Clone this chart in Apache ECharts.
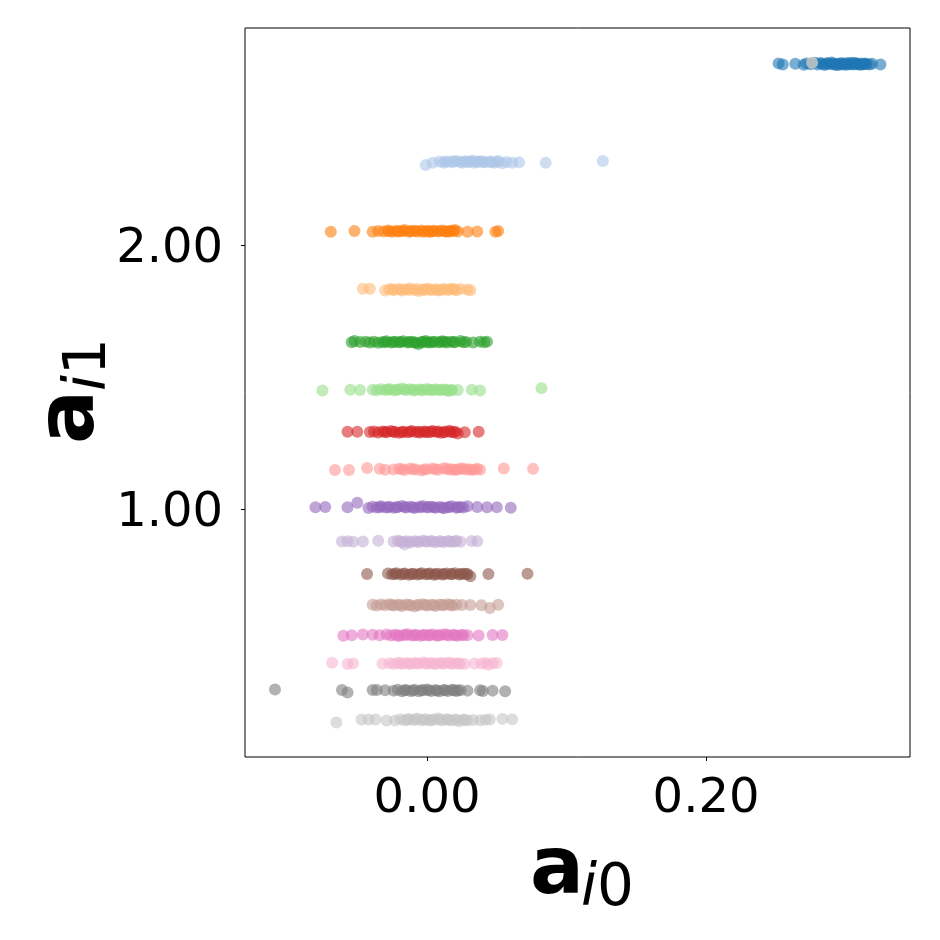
<!DOCTYPE html>
<html><head><meta charset="utf-8">
<script src="https://cdn.jsdelivr.net/npm/echarts@6/dist/echarts.min.js"></script>
<style>html,body{margin:0;padding:0;background:#fff}#c{width:940px;height:940px}</style>
</head><body><div id="c"></div>
<script>
// ---- data ----
const xTicks = [0, 0.2];
const yTicks = [1, 2];
const xRange = [-0.1305, 0.3462];
const yRange = [0.0606, 2.822];
const colors = ['#1f77b4','#aec7e8','#ff7f0e','#ffbb78','#2ca02c','#98df8a','#d62728','#ff9896',
                '#9467bd','#c5b0d5','#8c564b','#c49c94','#e377c2','#f7b6d2','#7f7f7f','#c7c7c7'];

const g01 = [[0.252,2.688],[0.255,2.684],[0.264,2.687],[0.270,2.683],[0.272,2.688],[0.275,2.685],[0.278,2.690],[0.280,2.684],[0.283,2.687],[0.285,2.682],[0.287,2.689],[0.289,2.685],[0.290,2.691],[0.292,2.684],[0.294,2.687],[0.295,2.682],[0.297,2.689],[0.298,2.685],[0.300,2.688],[0.301,2.683],[0.303,2.686],[0.305,2.690],[0.306,2.684],[0.308,2.687],[0.310,2.683],[0.311,2.688],[0.313,2.685],[0.315,2.686],[0.317,2.684],[0.319,2.687],[0.325,2.684],
  [0.282,2.689],[0.286,2.686],[0.291,2.688],[0.293,2.683],[0.296,2.686],[0.299,2.684],[0.302,2.689],[0.304,2.685],[0.307,2.689],[0.309,2.686],[0.312,2.684],[0.314,2.688]];
const g02 = [[-0.001,2.303],[0.004,2.312],[0.009,2.316],[0.012,2.312],[0.015,2.316],[0.018,2.313],[0.021,2.318],[0.024,2.314],[0.027,2.317],[0.030,2.313],[0.033,2.319],[0.036,2.314],[0.039,2.317],[0.042,2.313],[0.045,2.316],[0.048,2.312],[0.051,2.318],[0.054,2.310],[0.057,2.314],[0.061,2.312],[0.066,2.313],[0.085,2.312],[0.126,2.318],
  [0.013,2.315],[0.019,2.317],[0.025,2.312],[0.028,2.315],[0.031,2.317],[0.034,2.312],[0.037,2.316],[0.040,2.314],[0.046,2.314],[0.050,2.315]];
const g03 = [[-0.069,2.050],[-0.052,2.053],[-0.039,2.050],[-0.035,2.053],[-0.031,2.051],[-0.028,2.055],[-0.025,2.050],[-0.022,2.054],[-0.019,2.052],[-0.016,2.057],[-0.013,2.050],[-0.010,2.054],[-0.007,2.051],[-0.004,2.055],[-0.001,2.052],[0.002,2.049],[0.005,2.054],[0.008,2.051],[0.011,2.055],[0.014,2.050],[0.017,2.054],[0.020,2.057],[0.022,2.051],[0.029,2.050],[0.036,2.051],[0.049,2.050],[0.051,2.053],
  [-0.027,2.052],[-0.021,2.051],[-0.017,2.053],[-0.012,2.052],[-0.008,2.053],[-0.003,2.050],[0.001,2.054],[0.004,2.052],[0.009,2.053],[0.013,2.052],[0.016,2.051],[0.019,2.053]];
const g04 = [[-0.046,1.834],[-0.041,1.834],[-0.030,1.828],[-0.027,1.832],[-0.024,1.829],[-0.021,1.833],[-0.018,1.828],[-0.015,1.832],[-0.012,1.835],[-0.009,1.830],[-0.006,1.826],[-0.003,1.831],[0.000,1.834],[0.003,1.829],[0.006,1.832],[0.009,1.828],[0.012,1.833],[0.015,1.830],[0.018,1.834],[0.021,1.829],[0.024,1.833],[0.029,1.831],[0.031,1.829],
  [-0.025,1.832],[-0.019,1.831],[-0.013,1.830],[-0.007,1.833],[-0.002,1.830],[0.002,1.832],[0.007,1.830],[0.011,1.831],[0.016,1.832],[0.020,1.831]];
const g05 = [[-0.054,1.632],[-0.052,1.636],[-0.048,1.633],[-0.044,1.634],[-0.041,1.631],[-0.038,1.634],[-0.035,1.630],[-0.032,1.633],[-0.029,1.635],[-0.026,1.631],[-0.023,1.634],[-0.020,1.632],[-0.017,1.635],[-0.014,1.631],[-0.011,1.634],[-0.008,1.629],[-0.006,1.625],[-0.004,1.633],[-0.001,1.636],[0.002,1.631],[0.005,1.634],[0.008,1.632],[0.011,1.635],[0.014,1.631],[0.017,1.634],[0.020,1.632],[0.024,1.636],[0.028,1.633],[0.033,1.631],[0.038,1.634],[0.041,1.632],[0.043,1.634],
  [-0.030,1.632],[-0.024,1.633],[-0.019,1.633],[-0.013,1.633],[-0.009,1.632],[-0.003,1.633],[0.000,1.632],[0.004,1.633],[0.010,1.633],[0.013,1.634],[0.019,1.633],[0.026,1.632]];
const g06 = [[-0.075,1.449],[-0.055,1.452],[-0.048,1.451],[-0.039,1.452],[-0.036,1.450],[-0.033,1.454],[-0.030,1.451],[-0.027,1.455],[-0.024,1.450],[-0.021,1.453],[-0.018,1.456],[-0.015,1.451],[-0.012,1.454],[-0.009,1.449],[-0.006,1.453],[-0.003,1.450],[0.000,1.455],[0.003,1.451],[0.006,1.454],[0.009,1.450],[0.012,1.453],[0.015,1.447],[0.018,1.451],[0.022,1.451],[0.032,1.452],[0.038,1.449],[0.082,1.457],
  [-0.028,1.452],[-0.022,1.451],[-0.016,1.453],[-0.010,1.452],[-0.004,1.452],[0.001,1.452],[0.005,1.451],[0.010,1.452],[0.014,1.452],[0.017,1.450]];
const g07 = [[-0.057,1.293],[-0.050,1.293],[-0.041,1.292],[-0.038,1.294],[-0.035,1.290],[-0.032,1.294],[-0.029,1.291],[-0.026,1.295],[-0.023,1.292],[-0.020,1.289],[-0.017,1.293],[-0.014,1.291],[-0.011,1.295],[-0.008,1.292],[-0.005,1.290],[-0.002,1.294],[0.001,1.291],[0.004,1.295],[0.007,1.292],[0.010,1.289],[0.013,1.293],[0.016,1.296],[0.019,1.291],[0.022,1.286],[0.027,1.291],[0.037,1.293],
  [-0.030,1.293],[-0.024,1.293],[-0.018,1.292],[-0.012,1.293],[-0.006,1.293],[-0.001,1.292],[0.003,1.293],[0.008,1.294],[0.012,1.291],[0.017,1.292],[0.020,1.293]];
const g08 = [[-0.066,1.148],[-0.056,1.148],[-0.043,1.155],[-0.034,1.152],[-0.030,1.149],[-0.024,1.150],[-0.020,1.152],[-0.016,1.148],[-0.012,1.153],[-0.008,1.150],[-0.004,1.146],[0.000,1.151],[0.004,1.153],[0.008,1.149],[0.012,1.154],[0.016,1.150],[0.020,1.148],[0.024,1.153],[0.028,1.150],[0.032,1.148],[0.036,1.152],[0.038,1.149],[0.055,1.153],[0.076,1.152],
  [-0.018,1.151],[-0.010,1.151],[-0.002,1.150],[0.006,1.151],[0.014,1.152],[0.018,1.151],[0.022,1.150],[0.026,1.152],[0.030,1.151],[0.034,1.150]];
const g09 = [[-0.080,1.007],[-0.073,1.008],[-0.057,1.007],[-0.050,1.024],[-0.042,1.004],[-0.039,1.009],[-0.036,1.006],[-0.033,1.010],[-0.030,1.006],[-0.027,1.009],[-0.024,1.005],[-0.021,1.008],[-0.018,1.011],[-0.015,1.006],[-0.012,1.009],[-0.009,1.004],[-0.006,1.008],[-0.003,1.011],[0.000,1.006],[0.003,1.009],[0.006,1.005],[0.009,1.008],[0.012,1.003],[0.015,1.007],[0.018,1.010],[0.021,1.005],[0.024,1.008],[0.029,1.010],[0.036,1.008],[0.043,1.007],[0.050,1.007],[0.060,1.005],
  [-0.034,1.007],[-0.028,1.007],[-0.022,1.007],[-0.016,1.008],[-0.010,1.007],[-0.004,1.007],[0.001,1.008],[0.005,1.007],[0.011,1.006],[0.016,1.008],[0.022,1.007],[0.026,1.006]];
const g10 = [[-0.061,0.877],[-0.057,0.878],[-0.053,0.876],[-0.046,0.877],[-0.035,0.880],[-0.024,0.877],[-0.021,0.880],[-0.018,0.875],[-0.016,0.866],[-0.015,0.878],[-0.012,0.873],[-0.009,0.878],[-0.006,0.875],[-0.003,0.880],[0.000,0.876],[0.003,0.879],[0.006,0.874],[0.009,0.878],[0.012,0.875],[0.015,0.879],[0.018,0.876],[0.021,0.880],[0.024,0.876],[0.032,0.879],[0.036,0.878],
  [-0.019,0.877],[-0.013,0.877],[-0.007,0.877],[-0.001,0.878],[0.004,0.877],[0.010,0.877],[0.016,0.877],[0.020,0.877]];
const g11 = [[-0.043,0.754],[-0.028,0.756],[-0.025,0.753],[-0.022,0.757],[-0.019,0.752],[-0.016,0.756],[-0.013,0.751],[-0.010,0.755],[-0.007,0.752],[-0.004,0.757],[-0.001,0.753],[0.002,0.756],[0.005,0.751],[0.008,0.755],[0.011,0.752],[0.014,0.756],[0.017,0.753],[0.020,0.757],[0.023,0.752],[0.026,0.755],[0.029,0.753],[0.031,0.745],[0.044,0.754],[0.072,0.755],
  [-0.023,0.754],[-0.017,0.754],[-0.011,0.754],[-0.005,0.754],[0.001,0.754],[0.006,0.754],[0.012,0.754],[0.018,0.754],[0.024,0.754],[0.028,0.755]];
const g12 = [[-0.039,0.637],[-0.036,0.634],[-0.033,0.638],[-0.030,0.635],[-0.027,0.639],[-0.024,0.634],[-0.021,0.637],[-0.018,0.633],[-0.015,0.638],[-0.012,0.635],[-0.009,0.631],[-0.006,0.636],[-0.003,0.639],[0.000,0.634],[0.003,0.637],[0.006,0.633],[0.009,0.638],[0.012,0.635],[0.015,0.639],[0.018,0.634],[0.021,0.637],[0.025,0.636],[0.031,0.636],[0.039,0.635],[0.045,0.625],[0.051,0.637],
  [-0.025,0.636],[-0.019,0.636],[-0.013,0.636],[-0.007,0.636],[-0.001,0.636],[0.005,0.636],[0.011,0.636],[0.017,0.636]];
const g13 = [[-0.060,0.520],[-0.054,0.522],[-0.046,0.525],[-0.039,0.524],[-0.034,0.522],[-0.029,0.525],[-0.026,0.521],[-0.023,0.524],[-0.020,0.519],[-0.017,0.523],[-0.014,0.526],[-0.011,0.521],[-0.008,0.524],[-0.005,0.520],[-0.002,0.524],[0.001,0.521],[0.004,0.525],[0.007,0.520],[0.010,0.523],[0.013,0.526],[0.016,0.521],[0.019,0.524],[0.022,0.520],[0.025,0.524],[0.029,0.522],[0.037,0.521],[0.047,0.523],[0.054,0.523],
  [-0.021,0.522],[-0.015,0.523],[-0.009,0.522],[-0.003,0.522],[0.002,0.523],[0.008,0.522],[0.014,0.523],[0.020,0.522],[0.026,0.522]];
const g14 = [[-0.068,0.418],[-0.057,0.413],[-0.053,0.415],[-0.032,0.414],[-0.027,0.416],[-0.024,0.413],[-0.021,0.418],[-0.018,0.414],[-0.015,0.417],[-0.012,0.413],[-0.009,0.417],[-0.006,0.414],[-0.003,0.419],[0.000,0.414],[0.003,0.417],[0.006,0.413],[0.009,0.417],[0.012,0.414],[0.015,0.418],[0.018,0.414],[0.021,0.416],[0.024,0.414],[0.027,0.413],[0.034,0.415],[0.039,0.415],[0.042,0.417],[0.044,0.410],[0.047,0.416],[0.050,0.417],
  [-0.019,0.416],[-0.013,0.415],[-0.007,0.416],[-0.001,0.416],[0.005,0.415],[0.011,0.416],[0.017,0.416],[0.022,0.415]];
const g15 = [[-0.109,0.316],[-0.061,0.314],[-0.057,0.305],[-0.039,0.314],[-0.036,0.314],[-0.030,0.313],[-0.024,0.312],[-0.021,0.315],[-0.018,0.310],[-0.015,0.314],[-0.012,0.311],[-0.009,0.315],[-0.006,0.310],[-0.003,0.313],[0.000,0.316],[0.003,0.311],[0.006,0.314],[0.009,0.310],[0.012,0.314],[0.015,0.311],[0.018,0.315],[0.021,0.311],[0.024,0.313],[0.029,0.312],[0.038,0.313],[0.040,0.311],[0.047,0.312],[0.056,0.310],
  [-0.016,0.313],[-0.010,0.312],[-0.004,0.313],[0.001,0.313],[0.007,0.312],[0.013,0.313],[0.019,0.313],[0.022,0.313]];
const g16 = [[-0.065,0.191],[-0.047,0.203],[-0.042,0.203],[-0.037,0.203],[-0.029,0.199],[-0.023,0.199],[-0.019,0.204],[-0.016,0.200],[-0.013,0.205],[-0.010,0.201],[-0.007,0.206],[-0.004,0.200],[-0.001,0.204],[0.002,0.199],[0.005,0.203],[0.008,0.206],[0.011,0.200],[0.014,0.204],[0.017,0.199],[0.020,0.203],[0.023,0.196],[0.026,0.203],[0.029,0.199],[0.033,0.201],[0.038,0.200],[0.042,0.202],[0.045,0.203],[0.054,0.205],[0.061,0.204],
  [-0.014,0.202],[-0.008,0.203],[-0.002,0.202],[0.003,0.201],[0.009,0.202],[0.015,0.202],[0.021,0.201],[0.027,0.201],[0.276,2.690],[0.276,2.690]];
const groups = [g01,g02,g03,g04,g05,g06,g07,g08,g09,g10,g11,g12,g13,g14,g15,g16];

// ---- chart ----
const chart = echarts.init(document.getElementById('c'), null, {renderer:'canvas'});
const FONT = "'DejaVu Sans', sans-serif";
const option = {
  animation: false,
  backgroundColor: '#fff',
  grid: {left:245, right:30, top:28, bottom:183, show:true, borderColor:'#000', borderWidth:1, backgroundColor:'transparent', containLabel:false, outerBoundsMode:'none'},
  xAxis: {
    type:'value', min:xRange[0], max:xRange[1], position:'bottom',
    axisLine:{show:false, onZero:false}, splitLine:{show:false},
    axisTick:{show:true, inside:false, length:4, customValues:xTicks, lineStyle:{color:'#000', width:1}},
    axisLabel:{show:true, customValues:xTicks, margin:19, fontSize:48, fontFamily:FONT, color:'#000', formatter:v=>v.toFixed(2)}
  },
  yAxis: {
    type:'value', min:yRange[0], max:yRange[1], position:'left',
    axisLine:{show:false, onZero:false}, splitLine:{show:false},
    axisTick:{show:true, inside:false, length:4, customValues:yTicks, lineStyle:{color:'#000', width:1}},
    axisLabel:{show:true, customValues:yTicks, margin:22, color:'#000',
      formatter:v=>'{v|'+v.toFixed(2)+'}',
      rich:{v:{fontSize:48, fontFamily:FONT, color:'#000', padding:[9,0,0,0]}}}
  },
  series: groups.map((g,i)=>({
    type:'scatter', data:g, symbol:'circle', symbolSize:12,
    itemStyle:{color:colors[i], opacity:0.6, borderWidth:0},
    emphasis:{disabled:true}, silent:true
  })),
  graphic: [
    {type:'text', x:530, y:872, style:{text:'a', font:"bold 80px 'DejaVu Sans'", fill:'#000', align:'left', verticalAlign:'middle'}},
    {type:'text', x:581, y:890, style:{text:'i', font:"oblique 58px 'DejaVu Sans'", fill:'#000', align:'left', verticalAlign:'middle'}},
    {type:'text', x:597, y:890, style:{text:'0', font:"58px 'DejaVu Sans'", fill:'#000', align:'left', verticalAlign:'middle'}},
    {type:'text', x:72, y:444, rotation:Math.PI/2, style:{text:'a', font:"bold 80px 'DejaVu Sans'", fill:'#000', align:'left', verticalAlign:'middle'}},
    {type:'text', x:90, y:391, rotation:Math.PI/2, style:{text:'i', font:"oblique 58px 'DejaVu Sans'", fill:'#000', align:'left', verticalAlign:'middle'}},
    {type:'text', x:90, y:375, rotation:Math.PI/2, style:{text:'1', font:"58px 'DejaVu Sans'", fill:'#000', align:'left', verticalAlign:'middle'}}
  ]
};
chart.setOption(option);
</script>
</body></html>
